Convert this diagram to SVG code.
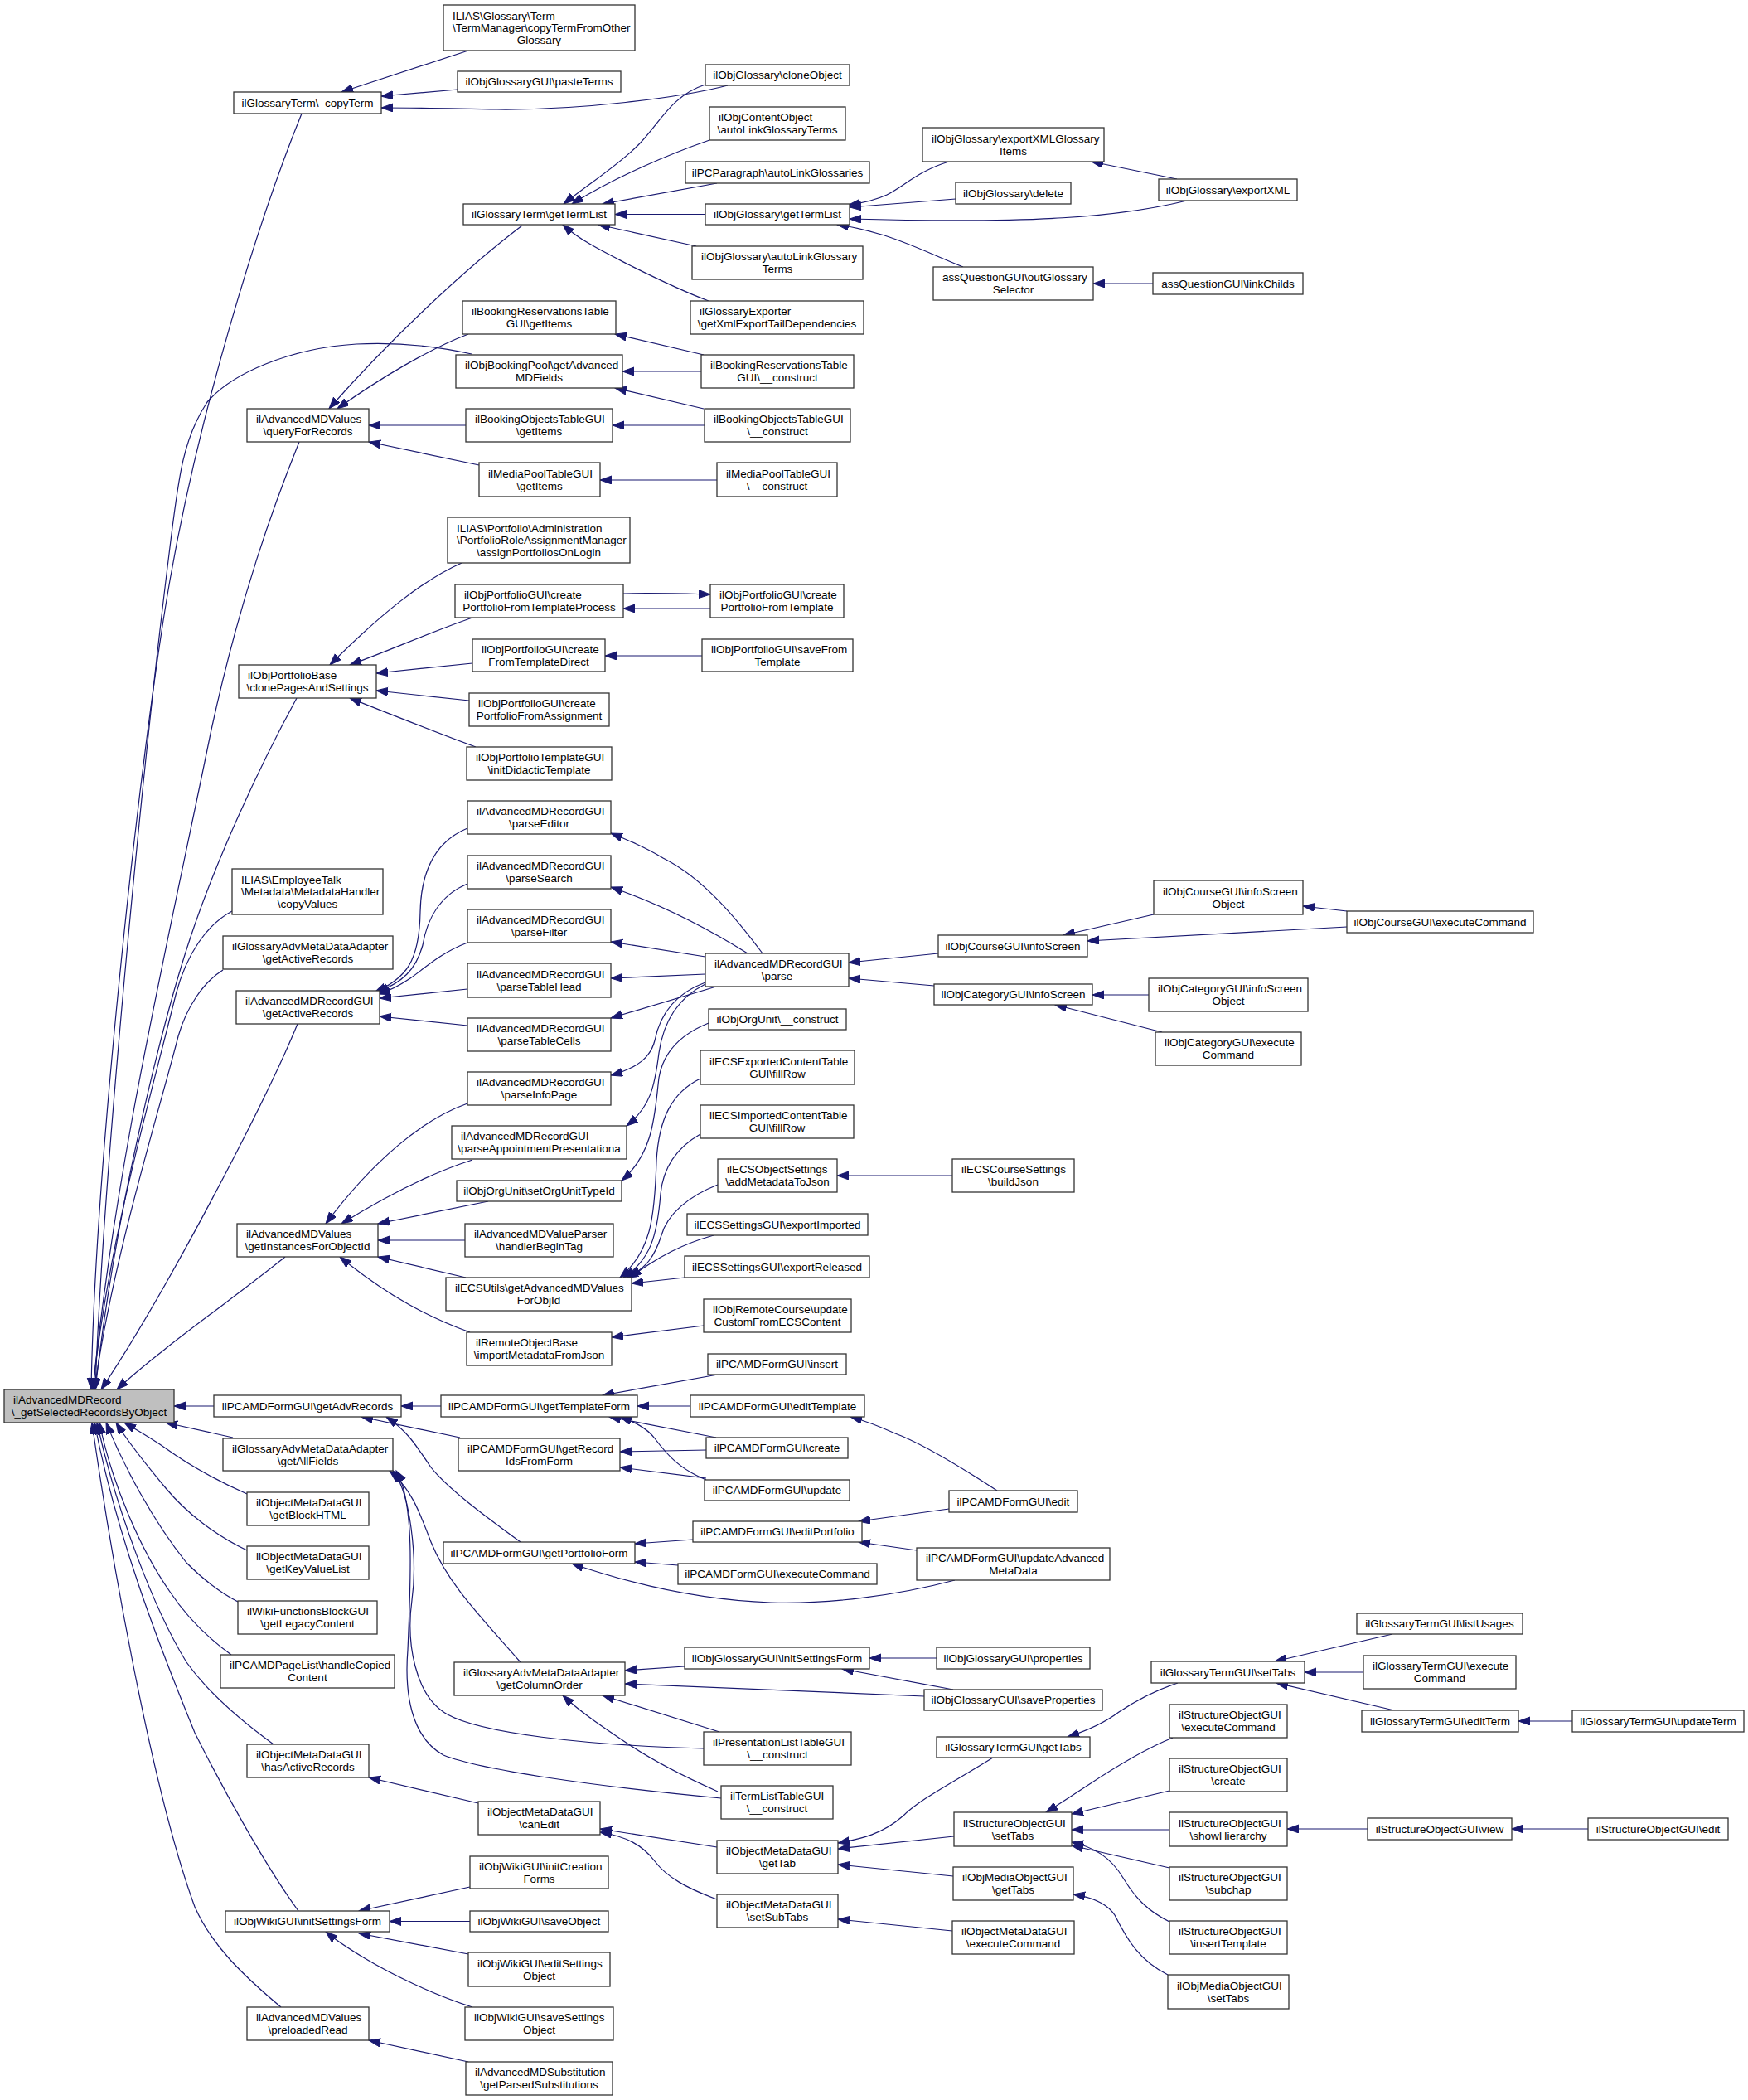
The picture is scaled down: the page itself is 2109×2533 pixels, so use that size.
<svg xmlns="http://www.w3.org/2000/svg" width="2109" height="2533" viewBox="0 0 2109 2533">
<defs>
<style>
.node rect{fill:#fff;stroke:#333;stroke-width:1.3}
#root rect{fill:#bfbfbf}
text{font-family:"Liberation Sans",Arial,Helvetica,sans-serif;font-size:13.5px;fill:#000}
.l{text-anchor:start}
.m{text-anchor:middle}
#edges path{fill:none;stroke:#191970;stroke-width:1.2;marker-end:url(#a)}
</style>
<marker id="a" markerUnits="userSpaceOnUse" markerWidth="16" markerHeight="12" viewBox="0 0 16 12" refX="14" refY="5" orient="auto"><path d="M0,0 L14,5 L0,10 z" fill="#191970" stroke="#191970" stroke-width="1"/></marker>
</defs>
<rect x="0" y="0" width="2109" height="2533" fill="#fff"/>
<g id="edges">
<path d="M565,61 L412,111"/>
<path d="M552,108 L460,116"/>
<path d="M878,103 C820,118 700,133 600,132 C540,131 500,130 460,130"/>
<path d="M851,102 C810,115 795,150 770,175 C745,200 710,222 680,246"/>
<path d="M856,169 C810,185 745,212 690,246"/>
<path d="M865,221 L727,246"/>
<path d="M851,258.5 L742,258.5"/>
<path d="M840,297 L722,271"/>
<path d="M855,363 C820,350 780,330 760,320 C725,302 700,290 679,271"/>
<path d="M630,272 C560,325 470,410 397,493"/>
<path d="M565,403 C520,420 460,455 407,493"/>
<path d="M562,513 L445,513"/>
<path d="M578,561 L445,533"/>
<path d="M1145,195 C1110,205 1090,225 1070,235 C1055,242 1040,245 1024,247"/>
<path d="M1153,240 L1025,250"/>
<path d="M1432,242 C1350,262 1250,270 1025,264"/>
<path d="M1162,322 C1120,305 1090,290 1060,282 C1040,276 1025,273 1010,271"/>
<path d="M1420,216 L1317,195"/>
<path d="M1391,342 L1319,342"/>
<path d="M849,428 L742,403"/>
<path d="M846,448 L751,448"/>
<path d="M849,493 L742,468"/>
<path d="M850,513 L739,513"/>
<path d="M865,579 L724,579"/>
<path d="M364,137 C310,270 240,500 205,700 C170,900 115,1400 110,1676"/>
<path d="M569,427 C520,416 470,413 430,415 C350,420 280,450 250,485 C220,530 215,580 205,660 C175,900 125,1400 115,1676"/>
<path d="M361,533 C330,610 290,720 255,880 C200,1150 140,1400 112,1676"/>
<path d="M358,842 C310,930 260,1040 230,1130 C200,1220 140,1450 115,1676"/>
<path d="M280,1099 C250,1115 225,1150 212,1200 C180,1330 130,1500 112,1676"/>
<path d="M269,1170 C245,1185 225,1215 215,1250 C195,1330 135,1520 114,1676"/>
<path d="M359,1235 C320,1330 200,1560 122,1676"/>
<path d="M344,1516 C290,1560 190,1630 141,1676"/>
<path d="M258,1696 L210,1696"/>
<path d="M281,1734 L200,1716"/>
<path d="M298,1802 C260,1785 225,1765 200,1747 C180,1733 160,1722 150,1716"/>
<path d="M298,1870 C260,1852 225,1825 200,1795 C175,1765 155,1740 140,1716"/>
<path d="M287,1932 C260,1918 240,1900 225,1885 C185,1835 150,1770 128,1716"/>
<path d="M279,1996 C250,1975 225,1950 205,1920 C170,1870 135,1790 120,1716"/>
<path d="M330,2104 C290,2075 250,2040 225,2005 C185,1940 140,1820 117,1716"/>
<path d="M360,2305 C320,2250 270,2160 235,2090 C190,1980 140,1850 114,1716"/>
<path d="M339,2421 C290,2380 255,2345 235,2300 C180,2150 130,1850 111,1716"/>
<path d="M532,1696 L484,1696"/>
<path d="M555,1734 L436,1709"/>
<path d="M628,1860 C580,1825 540,1795 520,1770 C500,1740 490,1725 466,1709"/>
<path d="M866,1658 L727,1683"/>
<path d="M833,1696 L769,1696"/>
<path d="M864,1734 L735,1709"/>
<path d="M852,1785 C820,1772 805,1755 790,1735 C780,1722 765,1715 748,1709"/>
<path d="M852,1749 L748,1751"/>
<path d="M852,1783 L748,1770"/>
<path d="M1203,1798 C1160,1770 1110,1740 1080,1729 C1060,1720 1045,1714 1026,1709"/>
<path d="M836,1857 L766,1862"/>
<path d="M818,1888 L766,1884"/>
<path d="M1152,1906 C1080,1925 1000,1935 930,1933 C840,1930 760,1910 690,1886"/>
<path d="M1145,1820 L1036,1835"/>
<path d="M1106,1870 L1036,1860"/>
<path d="M826,2010 L754,2015"/>
<path d="M1115,2046 L754,2031"/>
<path d="M868,2089 L727,2045"/>
<path d="M866,2161 C830,2145 790,2125 760,2105 C730,2085 700,2065 679,2045"/>
<path d="M628,2005 C580,1950 540,1910 520,1860 C505,1820 495,1795 470,1774"/>
<path d="M849,2109 C700,2105 580,2090 540,2068 C500,2046 490,1980 497,1930 C504,1880 495,1800 474,1774"/>
<path d="M870,2169 C720,2155 580,2135 535,2117 C495,2095 488,2040 492,1990 C496,1900 500,1810 478,1774"/>
<path d="M1130,2000 L1049,2000"/>
<path d="M1150,2038 L1016,2013"/>
<path d="M577,2175 L445,2144"/>
<path d="M865,2228 L724,2206"/>
<path d="M865,2291 C830,2278 805,2265 790,2245 C775,2225 755,2215 724,2210"/>
<path d="M1198,2120 C1150,2150 1110,2170 1090,2190 C1065,2212 1040,2218 1011,2223"/>
<path d="M1151,2215 L1011,2230"/>
<path d="M1150,2263 L1011,2249"/>
<path d="M1149,2329 L1011,2315"/>
<path d="M1421,2030 C1390,2040 1365,2055 1350,2065 C1330,2080 1310,2088 1288,2095"/>
<path d="M1680,1971 L1538,2004"/>
<path d="M1645,2017 L1574,2017"/>
<path d="M1682,2063 L1540,2030"/>
<path d="M1897,2076 L1832,2076"/>
<path d="M1415,2096 C1380,2110 1340,2135 1310,2155 C1290,2168 1275,2178 1262,2186"/>
<path d="M1411,2160 L1293,2188"/>
<path d="M1411,2207 L1293,2207"/>
<path d="M1411,2253 L1293,2226"/>
<path d="M1411,2318 C1385,2305 1370,2290 1355,2265 C1340,2240 1320,2228 1293,2222"/>
<path d="M1650,2206 L1553,2206"/>
<path d="M1916,2206 L1824,2206"/>
<path d="M1409,2382 C1375,2365 1360,2340 1345,2310 C1335,2295 1315,2288 1295,2285"/>
<path d="M567,2276 L433,2305"/>
<path d="M567,2317.5 L470,2317.5"/>
<path d="M565,2357 L433,2332"/>
<path d="M570,2421 C520,2405 470,2380 440,2362 C420,2350 405,2340 393,2330"/>
<path d="M565,2487 L445,2461"/>
<path d="M557,679 C510,700 460,740 398,802"/>
<path d="M570,745 C520,762 470,785 422,802"/>
<path d="M570,800 L454,812"/>
<path d="M566,845 L454,833"/>
<path d="M574,901 C530,885 480,865 422,842"/>
<path d="M752,716 C790,715 820,716 857,717"/>
<path d="M857,734 L752,734"/>
<path d="M847,791 L730,791"/>
<path d="M564,999 C525,1015 508,1050 507,1100 C506,1160 490,1180 452,1197"/>
<path d="M564,1066 C530,1080 515,1110 510,1140 C502,1170 485,1185 455,1197"/>
<path d="M564,1137 C530,1150 510,1170 495,1180 C480,1190 470,1195 457,1199"/>
<path d="M564,1193 L458,1204"/>
<path d="M564,1237 L458,1226"/>
<path d="M920,1150 C890,1110 850,1060 800,1035 C775,1020 755,1012 737,1005"/>
<path d="M902,1150 C870,1130 810,1095 737,1070"/>
<path d="M851,1154 L737,1136"/>
<path d="M851,1175 L737,1180"/>
<path d="M864,1190 L737,1228"/>
<path d="M851,1185 C810,1200 795,1230 790,1255 C785,1275 770,1288 737,1297"/>
<path d="M851,1187 C815,1205 800,1235 795,1270 C790,1310 785,1335 756,1358"/>
<path d="M855,1234 C820,1248 800,1270 795,1300 C790,1340 790,1390 750,1424"/>
<path d="M845,1301 C810,1318 795,1350 792,1400 C790,1470 785,1510 748,1541"/>
<path d="M845,1368 C815,1385 800,1410 797,1440 C793,1490 785,1520 752,1541"/>
<path d="M866,1429 C830,1443 805,1465 798,1490 C790,1515 780,1530 756,1541"/>
<path d="M861,1490 C825,1500 795,1515 760,1541"/>
<path d="M826,1541 L762,1548"/>
<path d="M1149,1418 L1010,1418"/>
<path d="M564,1331 C510,1350 450,1400 393,1476"/>
<path d="M570,1399 C520,1415 470,1440 412,1476"/>
<path d="M589,1449 L456,1476"/>
<path d="M561,1496 L456,1496"/>
<path d="M562,1541 L456,1516"/>
<path d="M567,1607 C520,1590 470,1565 410,1516"/>
<path d="M849,1599 L738,1613"/>
<path d="M1132,1150 L1024,1161"/>
<path d="M1127,1189 L1024,1180"/>
<path d="M1392,1103 L1283,1128"/>
<path d="M1625,1118 L1312,1135"/>
<path d="M1625,1099 L1572,1093"/>
<path d="M1386,1200 L1318,1200"/>
<path d="M1402,1245 L1273,1212"/>
</g>
<g id="root" class="node"><rect x="5" y="1676" width="205" height="40"/><text class="l" x="16" y="1693.35">ilAdvancedMDRecord</text><text class="m" x="107.5" y="1708.05">\_getSelectedRecordsByObject</text></g>
<g id="n_copyTerm" class="node"><rect x="282" y="111" width="178" height="26"/><text class="m" x="371" y="128.7">ilGlossaryTerm\_copyTerm</text></g>
<g id="n_queryForRecords" class="node"><rect x="298" y="493" width="147" height="40"/><text class="l" x="309" y="510.35">ilAdvancedMDValues</text><text class="m" x="371.5" y="525.05">\queryForRecords</text></g>
<g id="n_clonePages" class="node"><rect x="288" y="802" width="166" height="40"/><text class="l" x="299" y="819.35">ilObjPortfolioBase</text><text class="m" x="371" y="834.05">\clonePagesAndSettings</text></g>
<g id="n_employeeTalk" class="node"><rect x="280" y="1048" width="182" height="55"/><text class="l" x="291" y="1065.5">ILIAS\EmployeeTalk</text><text class="l" x="291" y="1080.2">\Metadata\MetadataHandler</text><text class="m" x="371" y="1094.9">\copyValues</text></g>
<g id="n_gaActiveRecords" class="node"><rect x="269" y="1129" width="205" height="40"/><text class="l" x="280" y="1146.35">ilGlossaryAdvMetaDataAdapter</text><text class="m" x="371.5" y="1161.05">\getActiveRecords</text></g>
<g id="n_argActiveRecords" class="node"><rect x="285" y="1195" width="173" height="40"/><text class="l" x="296" y="1212.35">ilAdvancedMDRecordGUI</text><text class="m" x="371.5" y="1227.05">\getActiveRecords</text></g>
<g id="n_getInstances" class="node"><rect x="286" y="1476" width="170" height="40"/><text class="l" x="297" y="1493.35">ilAdvancedMDValues</text><text class="m" x="371" y="1508.05">\getInstancesForObjectId</text></g>
<g id="n_getAdvRecords" class="node"><rect x="258" y="1683" width="226" height="26"/><text class="m" x="371" y="1700.7">ilPCAMDFormGUI\getAdvRecords</text></g>
<g id="n_getAllFields" class="node"><rect x="269" y="1735" width="205" height="39"/><text class="l" x="280" y="1751.85">ilGlossaryAdvMetaDataAdapter</text><text class="m" x="371.5" y="1766.55">\getAllFields</text></g>
<g id="n_getBlockHTML" class="node"><rect x="298" y="1800" width="147" height="40"/><text class="l" x="309" y="1817.35">ilObjectMetaDataGUI</text><text class="m" x="371.5" y="1832.05">\getBlockHTML</text></g>
<g id="n_getKeyValueList" class="node"><rect x="298" y="1865" width="147" height="40"/><text class="l" x="309" y="1882.35">ilObjectMetaDataGUI</text><text class="m" x="371.5" y="1897.05">\getKeyValueList</text></g>
<g id="n_getLegacyContent" class="node"><rect x="287" y="1931" width="168" height="40"/><text class="l" x="298" y="1948.35">ilWikiFunctionsBlockGUI</text><text class="m" x="371" y="1963.05">\getLegacyContent</text></g>
<g id="n_handleCopied" class="node"><rect x="266" y="1996" width="210" height="40"/><text class="l" x="277" y="2013.35">ilPCAMDPageList\handleCopied</text><text class="m" x="371" y="2028.05">Content</text></g>
<g id="n_hasActiveRecords" class="node"><rect x="298" y="2104" width="147" height="40"/><text class="l" x="309" y="2121.35">ilObjectMetaDataGUI</text><text class="m" x="371.5" y="2136.05">\hasActiveRecords</text></g>
<g id="n_wikiInitSettingsForm" class="node"><rect x="272" y="2305" width="198" height="25"/><text class="m" x="371" y="2322.2">ilObjWikiGUI\initSettingsForm</text></g>
<g id="n_preloadedRead" class="node"><rect x="298" y="2421" width="147" height="40"/><text class="l" x="309" y="2438.35">ilAdvancedMDValues</text><text class="m" x="371.5" y="2453.05">\preloadedRead</text></g>
<g id="n_copyOther" class="node"><rect x="535" y="6" width="231" height="55"/><text class="l" x="546" y="23.5">ILIAS\Glossary\Term</text><text class="l" x="546" y="38.2">\TermManager\copyTermFromOther</text><text class="m" x="650.5" y="52.9">Glossary</text></g>
<g id="n_pasteTerms" class="node"><rect x="552" y="86" width="197" height="25"/><text class="m" x="650.5" y="103.2">ilObjGlossaryGUI\pasteTerms</text></g>
<g id="n_getTermList" class="node"><rect x="559" y="246" width="183" height="25"/><text class="m" x="650.5" y="263.2">ilGlossaryTerm\getTermList</text></g>
<g id="n_bookResGetItems" class="node"><rect x="558" y="363" width="185" height="40"/><text class="l" x="569" y="380.35">ilBookingReservationsTable</text><text class="m" x="650.5" y="395.05">GUI\getItems</text></g>
<g id="n_bookPool" class="node"><rect x="550" y="428" width="201" height="40"/><text class="l" x="561" y="445.35">ilObjBookingPool\getAdvanced</text><text class="m" x="650.5" y="460.05">MDFields</text></g>
<g id="n_bookObjGetItems" class="node"><rect x="562" y="493" width="177" height="40"/><text class="l" x="573" y="510.35">ilBookingObjectsTableGUI</text><text class="m" x="650.5" y="525.05">\getItems</text></g>
<g id="n_mediaPoolGetItems" class="node"><rect x="578" y="558" width="146" height="41"/><text class="l" x="589" y="575.85">ilMediaPoolTableGUI</text><text class="m" x="651" y="590.55">\getItems</text></g>
<g id="n_portfolioAssign" class="node"><rect x="540" y="624" width="220" height="55"/><text class="l" x="551" y="641.5">ILIAS\Portfolio\Administration</text><text class="l" x="551" y="656.2">\PortfolioRoleAssignmentManager</text><text class="m" x="650" y="670.9">\assignPortfoliosOnLogin</text></g>
<g id="n_cpftp" class="node"><rect x="549" y="705" width="203" height="40"/><text class="l" x="560" y="722.35">ilObjPortfolioGUI\create</text><text class="m" x="650.5" y="737.05">PortfolioFromTemplateProcess</text></g>
<g id="n_cftd" class="node"><rect x="570" y="771" width="160" height="39"/><text class="l" x="581" y="787.85">ilObjPortfolioGUI\create</text><text class="m" x="650" y="802.55">FromTemplateDirect</text></g>
<g id="n_cpfa" class="node"><rect x="566" y="836" width="169" height="40"/><text class="l" x="577" y="853.35">ilObjPortfolioGUI\create</text><text class="m" x="650.5" y="868.05">PortfolioFromAssignment</text></g>
<g id="n_initDidactic" class="node"><rect x="563" y="901" width="175" height="40"/><text class="l" x="574" y="918.35">ilObjPortfolioTemplateGUI</text><text class="m" x="650.5" y="933.05">\initDidacticTemplate</text></g>
<g id="n_parseEditor" class="node"><rect x="564" y="966" width="173" height="40"/><text class="l" x="575" y="983.35">ilAdvancedMDRecordGUI</text><text class="m" x="650.5" y="998.05">\parseEditor</text></g>
<g id="n_parseSearch" class="node"><rect x="564" y="1032" width="173" height="40"/><text class="l" x="575" y="1049.35">ilAdvancedMDRecordGUI</text><text class="m" x="650.5" y="1064.05">\parseSearch</text></g>
<g id="n_parseFilter" class="node"><rect x="564" y="1097" width="173" height="40"/><text class="l" x="575" y="1114.35">ilAdvancedMDRecordGUI</text><text class="m" x="650.5" y="1129.05">\parseFilter</text></g>
<g id="n_parseTableHead" class="node"><rect x="564" y="1162" width="173" height="41"/><text class="l" x="575" y="1179.85">ilAdvancedMDRecordGUI</text><text class="m" x="650.5" y="1194.55">\parseTableHead</text></g>
<g id="n_parseTableCells" class="node"><rect x="564" y="1228" width="173" height="40"/><text class="l" x="575" y="1245.35">ilAdvancedMDRecordGUI</text><text class="m" x="650.5" y="1260.05">\parseTableCells</text></g>
<g id="n_parseInfoPage" class="node"><rect x="564" y="1293" width="173" height="40"/><text class="l" x="575" y="1310.35">ilAdvancedMDRecordGUI</text><text class="m" x="650.5" y="1325.05">\parseInfoPage</text></g>
<g id="n_parseAppointment" class="node"><rect x="545" y="1358" width="211" height="40"/><text class="l" x="556" y="1375.35">ilAdvancedMDRecordGUI</text><text class="m" x="650.5" y="1390.05">\parseAppointmentPresentationa</text></g>
<g id="n_setOrgUnitTypeId" class="node"><rect x="551" y="1424" width="199" height="25"/><text class="m" x="650.5" y="1441.2">ilObjOrgUnit\setOrgUnitTypeId</text></g>
<g id="n_handlerBeginTag" class="node"><rect x="561" y="1476" width="179" height="40"/><text class="l" x="572" y="1493.35">ilAdvancedMDValueParser</text><text class="m" x="650.5" y="1508.05">\handlerBeginTag</text></g>
<g id="n_ecsUtils" class="node"><rect x="538" y="1541" width="224" height="40"/><text class="l" x="549" y="1558.35">ilECSUtils\getAdvancedMDValues</text><text class="m" x="650" y="1573.05">ForObjId</text></g>
<g id="n_remoteObjectBase" class="node"><rect x="563" y="1607" width="175" height="40"/><text class="l" x="574" y="1624.35">ilRemoteObjectBase</text><text class="m" x="650.5" y="1639.05">\importMetadataFromJson</text></g>
<g id="n_getTemplateForm" class="node"><rect x="532" y="1683" width="237" height="26"/><text class="m" x="650.5" y="1700.7">ilPCAMDFormGUI\getTemplateForm</text></g>
<g id="n_getRecordIds" class="node"><rect x="553" y="1735" width="195" height="39"/><text class="l" x="564" y="1751.85">ilPCAMDFormGUI\getRecord</text><text class="m" x="650.5" y="1766.55">IdsFromForm</text></g>
<g id="n_getPortfolioForm" class="node"><rect x="535" y="1860" width="231" height="26"/><text class="m" x="650.5" y="1877.7">ilPCAMDFormGUI\getPortfolioForm</text></g>
<g id="n_getColumnOrder" class="node"><rect x="548" y="2005" width="206" height="40"/><text class="l" x="559" y="2022.35">ilGlossaryAdvMetaDataAdapter</text><text class="m" x="651" y="2037.05">\getColumnOrder</text></g>
<g id="n_canEdit" class="node"><rect x="577" y="2173" width="147" height="40"/><text class="l" x="588" y="2190.35">ilObjectMetaDataGUI</text><text class="m" x="650.5" y="2205.05">\canEdit</text></g>
<g id="n_initCreationForms" class="node"><rect x="567" y="2239" width="167" height="39"/><text class="l" x="578" y="2255.85">ilObjWikiGUI\initCreation</text><text class="m" x="650.5" y="2270.55">Forms</text></g>
<g id="n_saveObject" class="node"><rect x="567" y="2305" width="167" height="25"/><text class="m" x="650.5" y="2322.2">ilObjWikiGUI\saveObject</text></g>
<g id="n_editSettings" class="node"><rect x="565" y="2355" width="171" height="41"/><text class="l" x="576" y="2372.85">ilObjWikiGUI\editSettings</text><text class="m" x="650.5" y="2387.55">Object</text></g>
<g id="n_saveSettings" class="node"><rect x="561" y="2421" width="179" height="40"/><text class="l" x="572" y="2438.35">ilObjWikiGUI\saveSettings</text><text class="m" x="650.5" y="2453.05">Object</text></g>
<g id="n_getParsed" class="node"><rect x="562" y="2487" width="177" height="40"/><text class="l" x="573" y="2504.35">ilAdvancedMDSubstitution</text><text class="m" x="650.5" y="2519.05">\getParsedSubstitutions</text></g>
<g id="n_cloneObject" class="node"><rect x="851" y="78" width="174" height="25"/><text class="m" x="938" y="95.2">ilObjGlossary\cloneObject</text></g>
<g id="n_coAutoLink" class="node"><rect x="856" y="129" width="164" height="40"/><text class="l" x="867" y="146.35">ilObjContentObject</text><text class="m" x="938" y="161.05">\autoLinkGlossaryTerms</text></g>
<g id="n_pcParagraph" class="node"><rect x="827" y="195" width="222" height="26"/><text class="m" x="938" y="212.7">ilPCParagraph\autoLinkGlossaries</text></g>
<g id="n_ogGetTermList" class="node"><rect x="851" y="246" width="174" height="25"/><text class="m" x="938" y="263.2">ilObjGlossary\getTermList</text></g>
<g id="n_ogAutoLink" class="node"><rect x="835" y="297" width="206" height="40"/><text class="l" x="846" y="314.35">ilObjGlossary\autoLinkGlossary</text><text class="m" x="938" y="329.05">Terms</text></g>
<g id="n_glossaryExporter" class="node"><rect x="833" y="363" width="209" height="40"/><text class="l" x="844" y="380.35">ilGlossaryExporter</text><text class="m" x="937.5" y="395.05">\getXmlExportTailDependencies</text></g>
<g id="n_bookResConstruct" class="node"><rect x="846" y="428" width="184" height="40"/><text class="l" x="857" y="445.35">ilBookingReservationsTable</text><text class="m" x="938" y="460.05">GUI\__construct</text></g>
<g id="n_bookObjConstruct" class="node"><rect x="850" y="493" width="176" height="40"/><text class="l" x="861" y="510.35">ilBookingObjectsTableGUI</text><text class="m" x="938" y="525.05">\__construct</text></g>
<g id="n_mediaPoolConstruct" class="node"><rect x="865" y="558" width="145" height="41"/><text class="l" x="876" y="575.85">ilMediaPoolTableGUI</text><text class="m" x="937.5" y="590.55">\__construct</text></g>
<g id="n_cpft" class="node"><rect x="857" y="705" width="161" height="40"/><text class="l" x="868" y="722.35">ilObjPortfolioGUI\create</text><text class="m" x="937.5" y="737.05">PortfolioFromTemplate</text></g>
<g id="n_saveFromTemplate" class="node"><rect x="847" y="771" width="182" height="39"/><text class="l" x="858" y="787.85">ilObjPortfolioGUI\saveFrom</text><text class="m" x="938" y="802.55">Template</text></g>
<g id="n_parse" class="node"><rect x="851" y="1150" width="173" height="40"/><text class="l" x="862" y="1167.35">ilAdvancedMDRecordGUI</text><text class="m" x="937.5" y="1182.05">\parse</text></g>
<g id="n_orgUnitConstruct" class="node"><rect x="855" y="1217" width="166" height="25"/><text class="m" x="938" y="1234.2">ilObjOrgUnit\__construct</text></g>
<g id="n_ecsExported" class="node"><rect x="845" y="1267" width="186" height="41"/><text class="l" x="856" y="1284.85">ilECSExportedContentTable</text><text class="m" x="938" y="1299.55">GUI\fillRow</text></g>
<g id="n_ecsImported" class="node"><rect x="845" y="1333" width="185" height="40"/><text class="l" x="856" y="1350.35">ilECSImportedContentTable</text><text class="m" x="937.5" y="1365.05">GUI\fillRow</text></g>
<g id="n_ecsObjectSettings" class="node"><rect x="866" y="1398" width="144" height="40"/><text class="l" x="877" y="1415.35">ilECSObjectSettings</text><text class="m" x="938" y="1430.05">\addMetadataToJson</text></g>
<g id="n_exportImported" class="node"><rect x="829" y="1464" width="218" height="26"/><text class="m" x="938" y="1481.7">ilECSSettingsGUI\exportImported</text></g>
<g id="n_exportReleased" class="node"><rect x="826" y="1515" width="223" height="26"/><text class="m" x="937.5" y="1532.7">ilECSSettingsGUI\exportReleased</text></g>
<g id="n_remoteCourse" class="node"><rect x="849" y="1567" width="178" height="40"/><text class="l" x="860" y="1584.35">ilObjRemoteCourse\update</text><text class="m" x="938" y="1599.05">CustomFromECSContent</text></g>
<g id="n_insert" class="node"><rect x="854" y="1633" width="167" height="25"/><text class="m" x="937.5" y="1650.2">ilPCAMDFormGUI\insert</text></g>
<g id="n_editTemplate" class="node"><rect x="833" y="1683" width="210" height="26"/><text class="m" x="938" y="1700.7">ilPCAMDFormGUI\editTemplate</text></g>
<g id="n_create" class="node"><rect x="852" y="1734" width="171" height="25"/><text class="m" x="937.5" y="1751.2">ilPCAMDFormGUI\create</text></g>
<g id="n_update" class="node"><rect x="850" y="1785" width="175" height="25"/><text class="m" x="937.5" y="1802.2">ilPCAMDFormGUI\update</text></g>
<g id="n_editPortfolio" class="node"><rect x="836" y="1835" width="204" height="25"/><text class="m" x="938" y="1852.2">ilPCAMDFormGUI\editPortfolio</text></g>
<g id="n_pcExecuteCommand" class="node"><rect x="818" y="1886" width="240" height="25"/><text class="m" x="938" y="1903.2">ilPCAMDFormGUI\executeCommand</text></g>
<g id="n_oggInitSettingsForm" class="node"><rect x="826" y="1987" width="223" height="26"/><text class="m" x="937.5" y="2004.7">ilObjGlossaryGUI\initSettingsForm</text></g>
<g id="n_presentationList" class="node"><rect x="849" y="2089" width="178" height="40"/><text class="l" x="860" y="2106.35">ilPresentationListTableGUI</text><text class="m" x="938" y="2121.05">\__construct</text></g>
<g id="n_termList" class="node"><rect x="870" y="2154" width="135" height="40"/><text class="l" x="881" y="2171.35">ilTermListTableGUI</text><text class="m" x="937.5" y="2186.05">\__construct</text></g>
<g id="n_getTab" class="node"><rect x="865" y="2220" width="146" height="40"/><text class="l" x="876" y="2237.35">ilObjectMetaDataGUI</text><text class="m" x="938" y="2252.05">\getTab</text></g>
<g id="n_setSubTabs" class="node"><rect x="865" y="2285" width="146" height="40"/><text class="l" x="876" y="2302.35">ilObjectMetaDataGUI</text><text class="m" x="938" y="2317.05">\setSubTabs</text></g>
<g id="n_exportXMLGlossaryItems" class="node"><rect x="1113" y="154" width="219" height="41"/><text class="l" x="1124" y="171.85">ilObjGlossary\exportXMLGlossary</text><text class="m" x="1222.5" y="186.55">Items</text></g>
<g id="n_delete" class="node"><rect x="1153" y="220" width="139" height="26"/><text class="m" x="1222.5" y="237.7">ilObjGlossary\delete</text></g>
<g id="n_outGlossarySelector" class="node"><rect x="1126" y="322" width="193" height="40"/><text class="l" x="1137" y="339.35">assQuestionGUI\outGlossary</text><text class="m" x="1222.5" y="354.05">Selector</text></g>
<g id="n_courseInfoScreen" class="node"><rect x="1132" y="1128" width="180" height="26"/><text class="m" x="1222" y="1145.7">ilObjCourseGUI\infoScreen</text></g>
<g id="n_categoryInfoScreen" class="node"><rect x="1127" y="1187" width="191" height="25"/><text class="m" x="1222.5" y="1204.2">ilObjCategoryGUI\infoScreen</text></g>
<g id="n_ecsCourseSettings" class="node"><rect x="1149" y="1398" width="147" height="40"/><text class="l" x="1160" y="1415.35">ilECSCourseSettings</text><text class="m" x="1222.5" y="1430.05">\buildJson</text></g>
<g id="n_pcEdit" class="node"><rect x="1145" y="1798" width="155" height="26"/><text class="m" x="1222.5" y="1815.7">ilPCAMDFormGUI\edit</text></g>
<g id="n_updateAdvanced" class="node"><rect x="1106" y="1867" width="233" height="39"/><text class="l" x="1117" y="1883.85">ilPCAMDFormGUI\updateAdvanced</text><text class="m" x="1222.5" y="1898.55">MetaData</text></g>
<g id="n_properties" class="node"><rect x="1130" y="1987" width="185" height="26"/><text class="m" x="1222.5" y="2004.7">ilObjGlossaryGUI\properties</text></g>
<g id="n_saveProperties" class="node"><rect x="1115" y="2038" width="215" height="25"/><text class="m" x="1222.5" y="2055.2">ilObjGlossaryGUI\saveProperties</text></g>
<g id="n_gtgGetTabs" class="node"><rect x="1130" y="2095" width="185" height="25"/><text class="m" x="1222.5" y="2112.2">ilGlossaryTermGUI\getTabs</text></g>
<g id="n_soSetTabs" class="node"><rect x="1151" y="2186" width="142" height="41"/><text class="l" x="1162" y="2203.85">ilStructureObjectGUI</text><text class="m" x="1222" y="2218.55">\setTabs</text></g>
<g id="n_omoGetTabs" class="node"><rect x="1150" y="2252" width="145" height="40"/><text class="l" x="1161" y="2269.35">ilObjMediaObjectGUI</text><text class="m" x="1222.5" y="2284.05">\getTabs</text></g>
<g id="n_omdExecuteCommand" class="node"><rect x="1149" y="2317" width="147" height="40"/><text class="l" x="1160" y="2334.35">ilObjectMetaDataGUI</text><text class="m" x="1222.5" y="2349.05">\executeCommand</text></g>
<g id="n_exportXML" class="node"><rect x="1398" y="216" width="167" height="26"/><text class="m" x="1481.5" y="233.7">ilObjGlossary\exportXML</text></g>
<g id="n_linkChilds" class="node"><rect x="1391" y="329" width="181" height="26"/><text class="m" x="1481.5" y="346.7">assQuestionGUI\linkChilds</text></g>
<g id="n_courseISO" class="node"><rect x="1392" y="1062" width="180" height="41"/><text class="l" x="1403" y="1079.85">ilObjCourseGUI\infoScreen</text><text class="m" x="1482" y="1094.55">Object</text></g>
<g id="n_categoryISO" class="node"><rect x="1386" y="1180" width="192" height="40"/><text class="l" x="1397" y="1197.35">ilObjCategoryGUI\infoScreen</text><text class="m" x="1482" y="1212.05">Object</text></g>
<g id="n_categoryExec" class="node"><rect x="1394" y="1245" width="176" height="40"/><text class="l" x="1405" y="1262.35">ilObjCategoryGUI\execute</text><text class="m" x="1482" y="1277.05">Command</text></g>
<g id="n_gtgSetTabs" class="node"><rect x="1389" y="2004" width="185" height="26"/><text class="m" x="1481.5" y="2021.7">ilGlossaryTermGUI\setTabs</text></g>
<g id="n_soExecuteCommand" class="node"><rect x="1411" y="2056" width="142" height="40"/><text class="l" x="1422" y="2073.35">ilStructureObjectGUI</text><text class="m" x="1482" y="2088.05">\executeCommand</text></g>
<g id="n_soCreate" class="node"><rect x="1411" y="2121" width="142" height="40"/><text class="l" x="1422" y="2138.35">ilStructureObjectGUI</text><text class="m" x="1482" y="2153.05">\create</text></g>
<g id="n_soShowHierarchy" class="node"><rect x="1411" y="2186" width="142" height="41"/><text class="l" x="1422" y="2203.85">ilStructureObjectGUI</text><text class="m" x="1482" y="2218.55">\showHierarchy</text></g>
<g id="n_soSubchap" class="node"><rect x="1411" y="2252" width="142" height="40"/><text class="l" x="1422" y="2269.35">ilStructureObjectGUI</text><text class="m" x="1482" y="2284.05">\subchap</text></g>
<g id="n_soInsertTemplate" class="node"><rect x="1411" y="2317" width="142" height="40"/><text class="l" x="1422" y="2334.35">ilStructureObjectGUI</text><text class="m" x="1482" y="2349.05">\insertTemplate</text></g>
<g id="n_omoSetTabs" class="node"><rect x="1409" y="2382" width="146" height="41"/><text class="l" x="1420" y="2399.85">ilObjMediaObjectGUI</text><text class="m" x="1482" y="2414.55">\setTabs</text></g>
<g id="n_courseExec" class="node"><rect x="1625" y="1099" width="225" height="26"/><text class="m" x="1737.5" y="1116.7">ilObjCourseGUI\executeCommand</text></g>
<g id="n_listUsages" class="node"><rect x="1637" y="1946" width="200" height="25"/><text class="m" x="1737" y="1963.2">ilGlossaryTermGUI\listUsages</text></g>
<g id="n_gtgExecuteCommand" class="node"><rect x="1645" y="1997" width="184" height="40"/><text class="l" x="1656" y="2014.35">ilGlossaryTermGUI\execute</text><text class="m" x="1737" y="2029.05">Command</text></g>
<g id="n_editTerm" class="node"><rect x="1643" y="2063" width="189" height="26"/><text class="m" x="1737.5" y="2080.7">ilGlossaryTermGUI\editTerm</text></g>
<g id="n_soView" class="node"><rect x="1650" y="2193" width="174" height="26"/><text class="m" x="1737" y="2210.7">ilStructureObjectGUI\view</text></g>
<g id="n_updateTerm" class="node"><rect x="1897" y="2063" width="207" height="26"/><text class="m" x="2000.5" y="2080.7">ilGlossaryTermGUI\updateTerm</text></g>
<g id="n_soEdit" class="node"><rect x="1916" y="2193" width="169" height="26"/><text class="m" x="2000.5" y="2210.7">ilStructureObjectGUI\edit</text></g>
</svg>
